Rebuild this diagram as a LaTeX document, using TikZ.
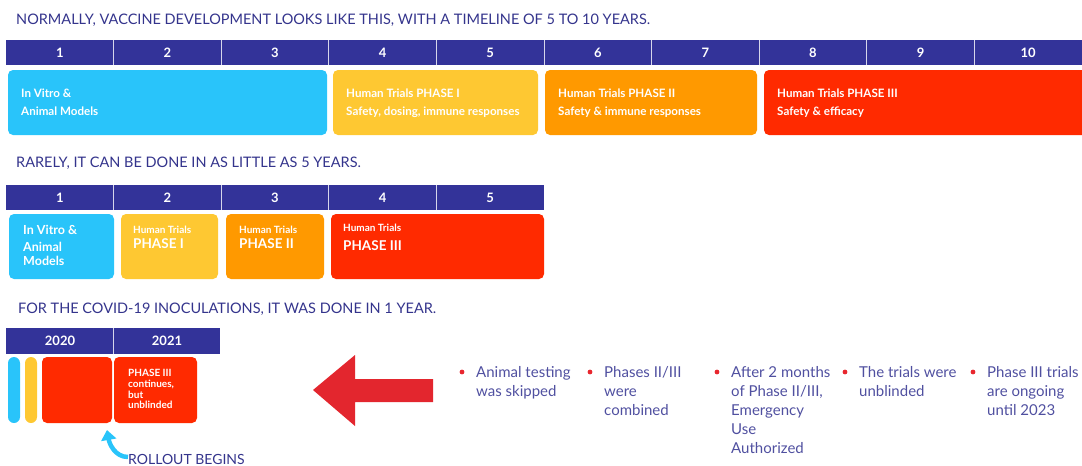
\documentclass[tikz,border=0pt]{standalone}
\usepackage{fontspec}
\setmainfont{Lato}
\usepackage{xcolor}
\usepackage{tikz}
\usetikzlibrary{arrows.meta}

\definecolor{barnavy}{RGB}{51,51,153}
\definecolor{titlenavy}{RGB}{52,52,140}
\definecolor{listnavy}{RGB}{80,80,160}
\definecolor{skyblue}{RGB}{41,196,250}
\definecolor{phaseone}{RGB}{254,200,50}
\definecolor{phasetwo}{RGB}{255,153,0}
\definecolor{phasethree}{RGB}{255,42,0}
\definecolor{arrowred}{RGB}{227,38,46}
\definecolor{dotred}{RGB}{232,38,46}

\tikzset{
  title/.style={anchor=west, inner sep=0pt, text=titlenavy, font=\fontsize{14.5}{15}\selectfont},
  yearnum/.style={text=white, inner sep=0pt, font=\bfseries\fontsize{13}{13}\selectfont},
  divider/.style={draw=white!80!barnavy, line width=0.8pt},
  phasebox/.style={rounded corners=5pt},
  boxtext/.style={anchor=north west, inner sep=0pt, align=left, text=white, font=\bfseries\fontsize{11.6}{18}\selectfont},
  listtext/.style={anchor=north west, inner sep=0pt, align=left, text=listnavy, font=\fontsize{15}{19}\selectfont}
}

\begin{document}
\begin{tikzpicture}[x=1pt,y=-1pt]
			\useasboundingbox (0,0) rectangle (1082,466);

			% 5 to 10 years
			\node[title] (titlea) at (16,20) {NORMALLY, VACCINE DEVELOPMENT LOOKS LIKE THIS, WITH A TIMELINE OF 5 TO 10 YEARS.};
			\fill[barnavy] (6,40) rectangle (1082,65);
			\foreach \i in {1,...,10}
				\node[yearnum] (yeara\i) at ({6+107.6*(\i-0.5)},52.5) {\i};
			\foreach \i in {1,...,9}
				\draw[divider] ({6+107.6*\i},40) -- ({6+107.6*\i},65);

			\fill[skyblue, phasebox] (8,70) rectangle (327,135);
			\fill[phaseone, phasebox] (333,70) rectangle (538,135);
			\fill[phasetwo, phasebox] (545,70) rectangle (757,135);
			\fill[phasethree, phasebox] (764,70) rectangle (1087,135);
			\node[boxtext] (vitroa) at (21,88.5) {In Vitro \&\\Animal Models};
			\node[boxtext] (onea) at (346,88.5) {Human Trials PHASE I\\Safety, dosing, immune responses};
			\node[boxtext] (twoa) at (558,88.5) {Human Trials PHASE II\\Safety \& immune responses};
			\node[boxtext] (threea) at (777,88.5) {Human Trials PHASE III\\Safety \& efficacy};

			% 5 years
			\node[title] (titleb) at (16,163) {RARELY, IT CAN BE DONE IN AS LITTLE AS 5 YEARS.};
			\fill[barnavy] (6,185) rectangle (544,210);
			\foreach \i in {1,...,5}
				\node[yearnum] (yearb\i) at ({6+107.6*(\i-0.5)},197.5) {\i};
			\foreach \i in {1,...,4}
				\draw[divider] ({6+107.6*\i},185) -- ({6+107.6*\i},210);

			\fill[skyblue, phasebox] (9,214) rectangle (114,279);
			\fill[phaseone, phasebox] (121,214) rectangle (218,279);
			\fill[phasetwo, phasebox] (226,214) rectangle (324,279);
			\fill[phasethree, phasebox] (331,214) rectangle (544,279);
			\node[boxtext, font=\bfseries\fontsize{12.5}{16.5}\selectfont] (vitrob) at (23,225.5) {In Vitro \&\\Animal\\[-2pt]Models};
			\node[boxtext, font=\bfseries\fontsize{10}{10}\selectfont] (oneb) at (133,226) {Human Trials};
			\node[boxtext, font=\bfseries\fontsize{13.5}{13.5}\selectfont] (onebb) at (133,238) {PHASE I};
			\node[boxtext, font=\bfseries\fontsize{10}{10}\selectfont] (twob) at (239,226) {Human Trials};
			\node[boxtext, font=\bfseries\fontsize{13.5}{13.5}\selectfont] (twobb) at (239,238) {PHASE II};
			\node[boxtext, font=\bfseries\fontsize{10}{10}\selectfont] (threeb) at (343,223.5) {Human Trials};
			\node[boxtext, font=\bfseries\fontsize{13.5}{13.5}\selectfont] (threebb) at (343,240.5) {PHASE III};

			% 1 year
			\node[title] (titlec) at (18,309) {FOR THE COVID-19 INOCULATIONS, IT WAS DONE IN 1 YEAR.};
			\fill[barnavy] (6,328) rectangle (220,354);
			\node[yearnum] (yearc1) at (60,341) {2020};
			\node[yearnum] (yearc2) at (167,341) {2021};
			\draw[divider] (113,328) -- (113,354);

			\fill[skyblue, rounded corners=6pt] (8,357) rectangle (20,423);
			\fill[phaseone, rounded corners=6pt] (25,357) rectangle (37,423);
			\fill[phasethree, phasebox] (42,357) rectangle (112,423);
			\fill[phasethree, phasebox] (114,357) rectangle (197,423);
			\node[boxtext, font=\bfseries\fontsize{10}{10.8}\selectfont] (threec) at (128,369) {PHASE III\\continues,\\but\\unblinded};

			\coordinate (rolltip) at (107,430);
			\node[title, font=\fontsize{14}{14}\selectfont] (rollout) at (128,459) {ROLLOUT BEGINS};
			\draw[skyblue, line width=4.5pt, -{Triangle[length=10pt,width=15pt]}] ([yshift=2pt]rollout.west) to[out=180,in=-80] (rolltip);

			\fill[arrowred] (313,390) -- (355,355) -- (355,379) -- (433,379) -- (433,402) -- (355,402) -- (355,426) -- cycle;

			% what changed
			\foreach \x/\n in {462/p1,590/p2,717/p3,845/p4,973/p5}
				\fill[dotred] (\x,372) circle (2.4pt);
			\node[listtext] (pointa) at (476,366.5) {Animal testing\\was skipped};
			\node[listtext] (pointb) at (604,366.5) {Phases II/III\\were\\combined};
			\node[listtext] (pointc) at (731,366.5) {After 2 months\\of Phase II/III,\\Emergency\\Use\\Authorized};
			\node[listtext] (pointd) at (859,366.5) {The trials were\\unblinded};
			\node[listtext] (pointe) at (987,366.5) {Phase III trials\\are ongoing\\until 2023};
		\end{tikzpicture}
\end{document}
